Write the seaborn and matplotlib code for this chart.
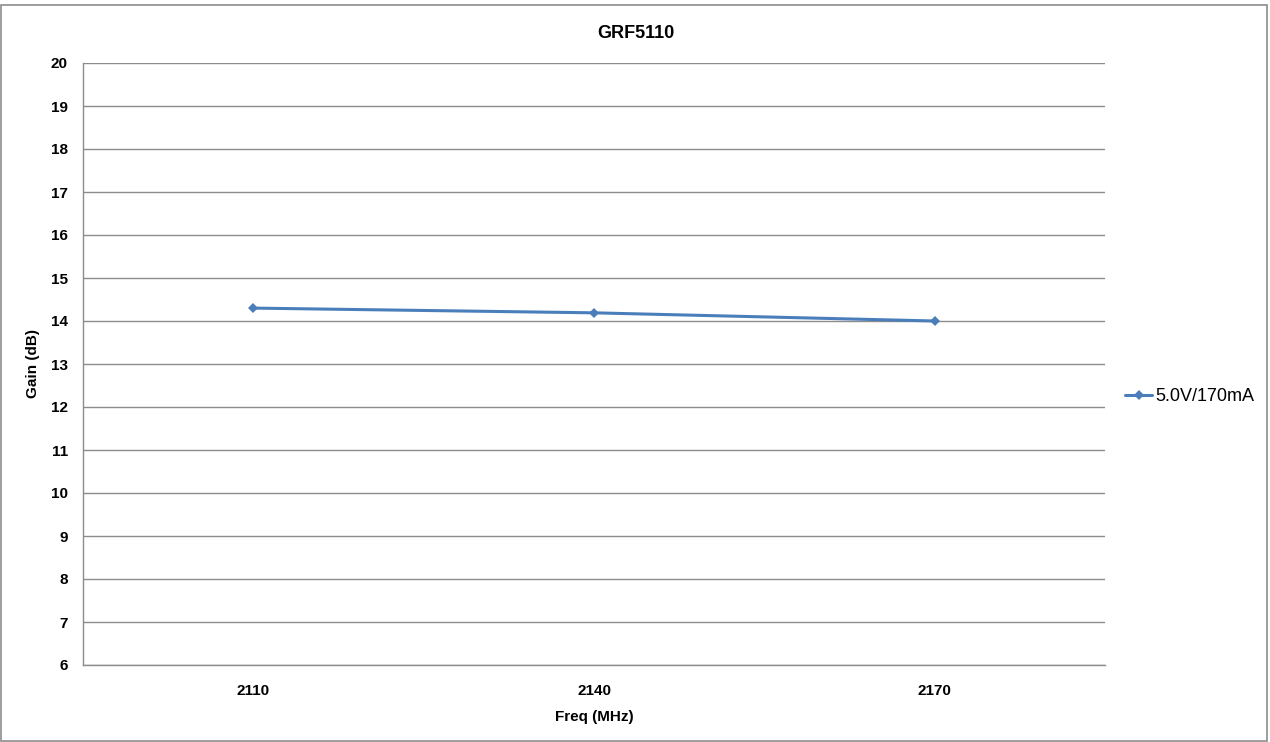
import matplotlib
matplotlib.use("Agg")
import matplotlib.pyplot as plt
import seaborn as sns
import pandas as pd
from matplotlib.patches import Rectangle

# data
freq = ["2110", "2140", "2170"]
gain = [14.3, 14.19, 14.0]
series_name = "5.0V/170mA"

df = pd.DataFrame({"Freq": freq, "Gain": gain, "Series": series_name})

sns.set_style("white")
plt.rcParams["font.family"] = ["Liberation Sans", "DejaVu Sans"]
plt.rcParams["text.color"] = "black"
plt.rcParams["axes.labelcolor"] = "black"
plt.rcParams["xtick.labelcolor"] = "black"
plt.rcParams["ytick.labelcolor"] = "black"

fig = plt.figure(figsize=(12.7, 7.42), dpi=100)
ax = fig.add_axes([83 / 1270, 77 / 742, 1022 / 1270, 602 / 742])

sns.lineplot(data=df, x="Freq", y="Gain", hue="Series", palette=["#4a7ebb"],
             marker="D", markersize=5, markeredgewidth=0, linewidth=2.2, ax=ax)

ax.set_xlim(-0.5, 2.5)
ax.set_ylim(6, 20)
ax.set_yticks(range(6, 21))
ax.yaxis.grid(True, color="#8c8c8c", linewidth=1)
ax.xaxis.grid(False)
for side in ["top", "right"]:
    ax.spines[side].set_visible(False)
for side in ["left", "bottom"]:
    ax.spines[side].set_color("#8c8c8c")
    ax.spines[side].set_linewidth(1)
ax.tick_params(axis="y", length=5, color="#8c8c8c", width=1, pad=6, labelsize=11,
               labelcolor="black")
ax.tick_params(axis="x", length=0, pad=14, labelsize=11, labelcolor="black")
for lbl in ax.get_xticklabels() + ax.get_yticklabels():
    lbl.set_fontweight("bold")

ax.set_xlabel("Freq (MHz)", fontsize=11, fontweight="bold", labelpad=8, color="black")
ax.set_ylabel("Gain (dB)", fontsize=11, fontweight="bold", labelpad=8, color="black")
fig.text(636 / 1270, 1 - 33 / 742, "GRF5110", ha="center", va="center",
         fontsize=13, fontweight="bold", color="black")

leg = ax.legend(loc="center left", bbox_to_anchor=(1125 / 1270, 1 - 397 / 742),
                bbox_transform=fig.transFigure, frameon=False, fontsize=13,
                handlelength=1.5, handletextpad=0.2, borderaxespad=0, borderpad=0,
                labelcolor="black")
leg.set_title(None)

# outer chart border
fig.patches.append(Rectangle((1 / 1270, 1 / 742), 1266 / 1270, 736 / 742,
                             transform=fig.transFigure, fill=False,
                             edgecolor="#8c8c8c", linewidth=1.2))

fig.savefig("out.png", dpi=100)
